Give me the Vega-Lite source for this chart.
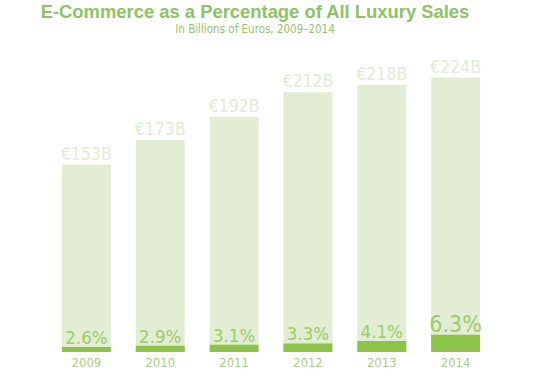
{
  "$schema": "https://vega.github.io/schema/vega-lite/v6.json",
  "width": 492,
  "height": 294,
  "autosize": "none",
  "padding": {"left": 25, "top": 58, "right": 33, "bottom": 23},
  "background": "#ffffff",
  "title": {
    "text": "E-Commerce as a Percentage of All Luxury Sales",
    "subtitle": "In Billions of Euros, 2009–2014",
    "anchor": "middle",
    "dx": -16,
    "offset": 23,
    "font": "Liberation Sans",
    "fontSize": 18.4,
    "fontWeight": "bold",
    "color": "#8dc266",
    "subtitleFont": "DejaVu Sans Condensed",
    "subtitleFontSize": 11.5,
    "subtitleColor": "#92c46c",
    "subtitlePadding": 2
  },
  "data": {
    "values": [
      {"year": "2009", "total": 153, "ecom": 3.98, "label": "€153B", "pct": "2.6%"},
      {"year": "2010", "total": 173, "ecom": 5.02, "label": "€173B", "pct": "2.9%"},
      {"year": "2011", "total": 192, "ecom": 5.95, "label": "€192B", "pct": "3.1%"},
      {"year": "2012", "total": 212, "ecom": 7.0, "label": "€212B", "pct": "3.3%"},
      {"year": "2013", "total": 218, "ecom": 8.94, "label": "€218B", "pct": "4.1%"},
      {"year": "2014", "total": 224, "ecom": 14.1, "label": "€224B", "pct": "6.3%"}
    ]
  },
  "encoding": {
    "x": {
      "field": "year",
      "type": "nominal",
      "scale": {"paddingInner": 0.337, "paddingOuter": 0.5},
      "axis": {
        "title": null,
        "domain": false,
        "ticks": false,
        "labelAngle": 0,
        "labelPadding": 4,
        "labelFont": "DejaVu Sans Condensed",
        "labelFontSize": 13,
        "labelColor": "#a8cf82"
      }
    }
  },
  "layer": [
    {
      "mark": {"type": "bar", "color": "#e3edd4"},
      "encoding": {
        "y": {"field": "total", "type": "quantitative", "scale": {"domain": [0, 240]}, "axis": null}
      }
    },
    {
      "mark": {"type": "bar", "color": "#8dc349"},
      "encoding": {
        "y": {"field": "ecom", "type": "quantitative", "scale": {"domain": [0, 240]}, "axis": null}
      }
    },
    {
      "mark": {"type": "text", "baseline": "alphabetic", "dy": -5, "font": "DejaVu Sans Condensed", "fontSize": 17.5, "color": "#e2ecd5"},
      "encoding": {
        "y": {"field": "total", "type": "quantitative", "scale": {"domain": [0, 240]}, "axis": null},
        "text": {"field": "label"}
      }
    },
    {
      "mark": {"type": "text", "baseline": "alphabetic", "dy": -3, "font": "DejaVu Sans Condensed", "color": "#9ccb6b"},
      "encoding": {
        "y": {"field": "ecom", "type": "quantitative", "scale": {"domain": [0, 240]}, "axis": null},
        "text": {"field": "pct"},
        "size": {"condition": {"test": "datum.year == '2014'", "value": 23}, "value": 18.5}
      }
    }
  ],
  "config": {"view": {"stroke": null}}
}
